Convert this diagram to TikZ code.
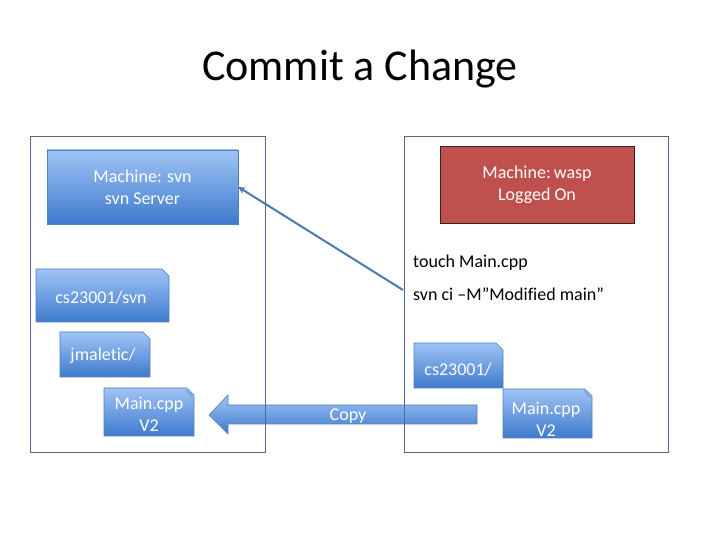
\documentclass[tikz,border=0pt]{standalone}
\usepackage{fontspec}
\setmainfont[Ligatures=NoCommon]{Carlito}
\usetikzlibrary{backgrounds,arrows.meta}

\definecolor{topblue}{RGB}{160,196,245}
\definecolor{botblue}{RGB}{62,122,205}
\definecolor{edgeblue}{RGB}{85,125,185}
\definecolor{framecol}{RGB}{80,105,135}
\definecolor{waspred}{RGB}{192,80,77}
\definecolor{waspedge}{RGB}{60,30,30}
\definecolor{linkblue}{RGB}{74,122,180}

\tikzset{
  bluefill/.style={draw=edgeblue, line width=0.6pt, top color=topblue, bottom color=botblue},
  lbl/.style={text=white, font=\fontsize{18}{22}\selectfont, align=center, inner sep=0pt},
  cmd/.style={text=black, font=\fontsize{18}{22}\selectfont, anchor=west, inner sep=0pt},
  framebox/.style={draw=framecol, line width=0.8pt},
}

% folder shape: x1 y1 (bottom-left) x2 y2 (top-right), cut c
\newcommand\myfolder[5]{%
  \path[bluefill] (#1,#2) -- (#1,#4) -- ({#3-#5},#4) -- (#3,{#4-#5}) -- (#3,#2) -- cycle;}
\newcommand\myfile[5]{%
  \path[bluefill] (#1,#2) -- (#1,#4) -- ({#3-#5},#4) -- (#3,{#4-#5}) -- (#3,#2) -- cycle;
  \draw[edgeblue, line width=0.6pt] ({#3-#5-1},{#4-2}) -- ({#3-2},{#4-#5-1});}

\begin{document}
\begin{tikzpicture}[x=1pt,y=1pt]
\useasboundingbox (0,0) rectangle (720,540);

% title
\node[font=\fontsize{44}{52}\selectfont, anchor=base, inner sep=0pt] (title) at (360,459) {Commit a Change};

% background shapes
\begin{scope}[on background layer]
  % copy arrow
  \coordinate (ctip) at (209,125);
  \path[bluefill] (ctip) -- (228,145) -- (228,135) -- (477,135) -- (477,116) -- (228,116) -- (228,106) -- cycle;
  % folders
  \myfolder{36}{218}{169}{271}{7}
  \myfolder{60}{163}{150}{208}{7}
  \myfile{104}{104}{194}{152}{7}
  \myfolder{414}{152}{503}{197}{7}
  \myfile{503}{102}{592}{151}{7}
\end{scope}

% frames
\draw[framebox] (30,88) rectangle (265,404);
\draw[framebox] (404,88) rectangle (668,404);

% machines
\node[lbl, bluefill, minimum width=191pt, minimum height=74pt] (svn) at (142.5,353) {Machine: svn\\svn Server};
\node[lbl, fill=waspred, draw=waspedge, line width=0.6pt, minimum width=194pt, minimum height=77pt] (wasp) at (537,355.5) {Machine:\,wasp\\Logged On};

% commands
\node[cmd] (touch) at (413,277) {touch Main.cpp};
\node[cmd] (ci) at (413,246) {svn ci –M”Modified main”};

% labels
\node[lbl] (repo) at (101,242) {cs23001/svn};
\node[lbl] (jm) at (103,184) {jmaletic/};
\node[lbl] (mainl) at (149,126) {Main.cpp\\V2};
\node[lbl] (wc) at (458,170) {cs23001/};
\node[lbl] (mainr) at (546,121) {Main.cpp\\V2};
\node[lbl] (copy) at (348,124) {Copy};

% commit link
\coordinate (cistart) at (403,250);
\draw[linkblue, line width=2pt, -{Stealth[length=7pt,width=7pt]}] (cistart) -- (svn.east);
\end{tikzpicture}
\end{document}
